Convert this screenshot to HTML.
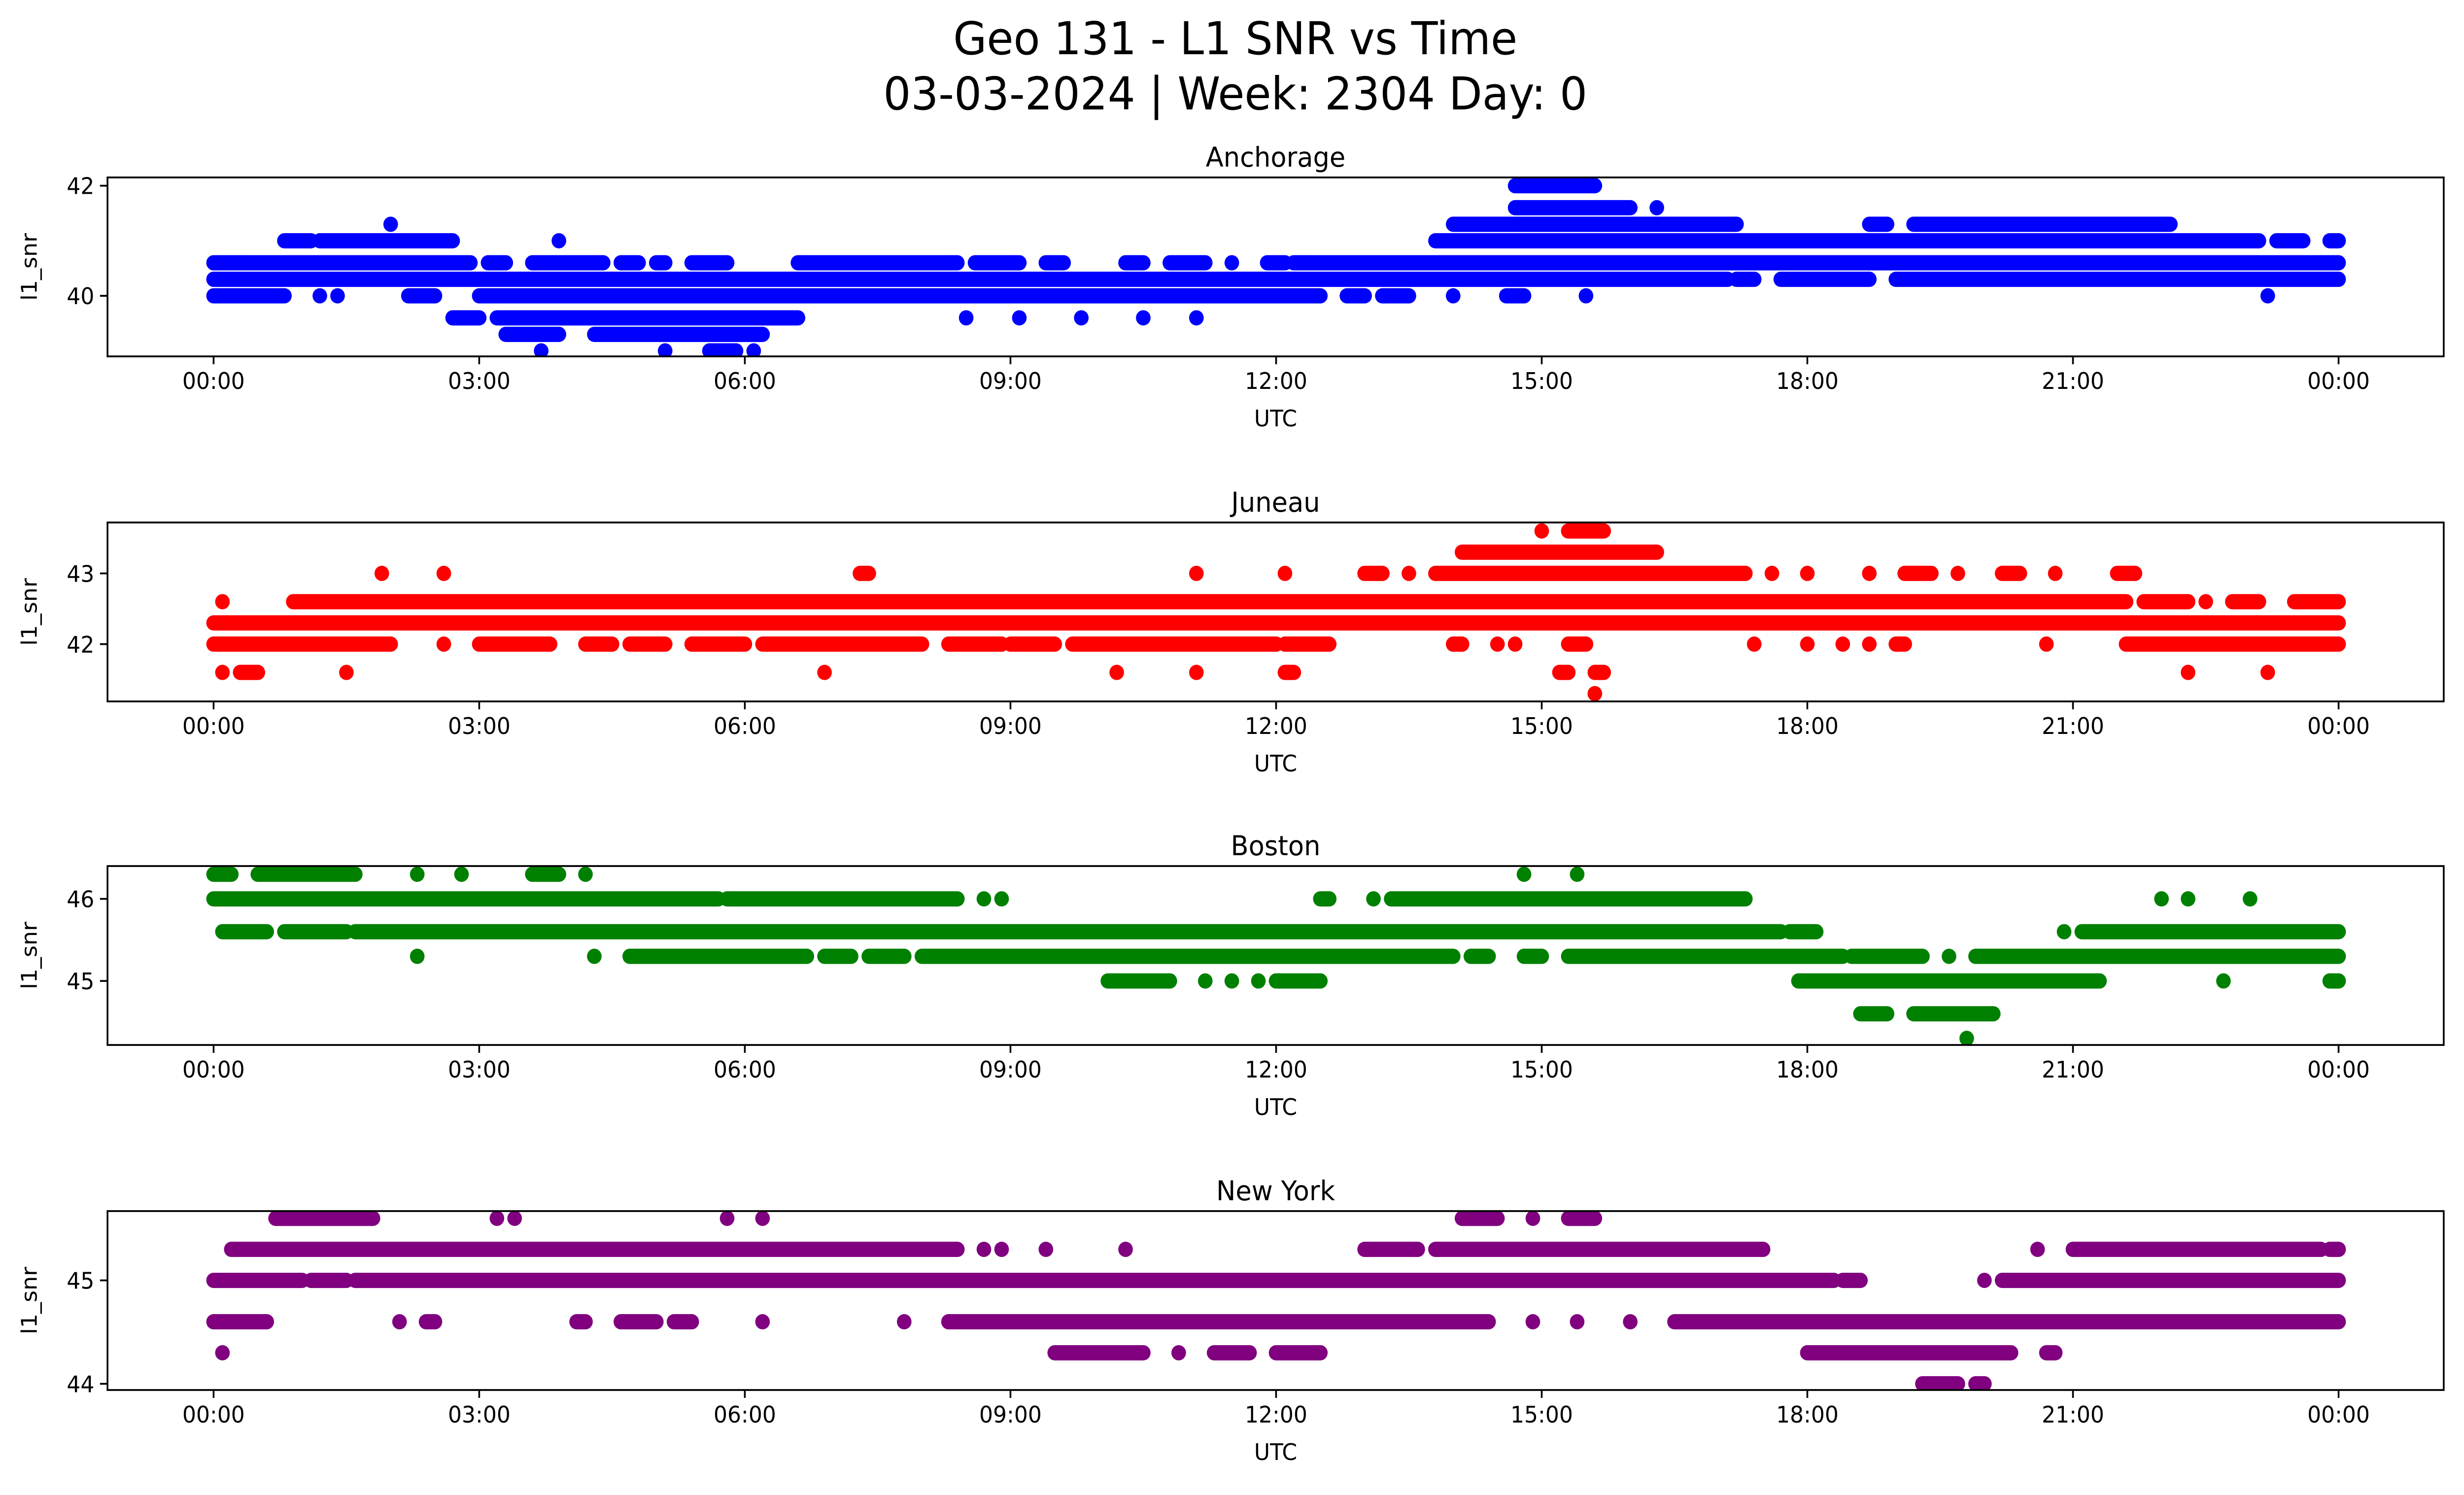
<!DOCTYPE html>
<html><head><meta charset="utf-8"><style>
html,body{margin:0;padding:0;background:#fff;overflow:hidden;width:100%;height:100%;}
svg{display:block;width:100vw;height:100vh;font-family:"DejaVu Sans","Liberation Sans",sans-serif;}
</style></head><body>
<svg id="fig" viewBox="0 0 5226 3033" preserveAspectRatio="none" xmlns="http://www.w3.org/2000/svg">
<rect width="5226" height="3033" fill="#fff"/>
<text x="2620" y="110" font-size="92" text-anchor="middle">Geo 131 - L1 SNR vs Time</text>
<text x="2620" y="222" font-size="92" text-anchor="middle">03-03-2024 | Week: 2304 Day: 0</text>
</svg>
<script>
// ---- data: runs [level, startHour, endHour] ----
const stations = ["Anchorage","Juneau","Boston","New York"];
const colors = ["#0000ff","#ff0000","#008000","#800080"];
const yLimits = [[38.9,42.15],[41.19,43.72],[44.22,46.4],[43.94,45.67]];
const yTicks = [[40,42],[42,43],[45,46],[44,45]];
const anchorageRuns = [
 [40.6,0,2.9],[40.6,3.1,3.3],[40.6,3.6,4.4],[40.6,4.6,4.8],[40.6,5.0,5.1],[40.6,5.4,5.8],[40.6,6.6,8.4],[40.6,8.6,9.1],[40.6,9.4,9.6],[40.6,10.3,10.5],[40.6,10.8,11.2],[40.6,11.5,11.5],[40.6,11.9,12.1],[40.6,12.2,24],
 [40.3,0,17.1],[40.3,17.2,17.4],[40.3,17.7,18.7],[40.3,19.0,24],
 [40,0,0.8],[40,1.2,1.2],[40,1.4,1.4],[40,2.2,2.5],[40,3.0,12.5],[40,12.8,13.0],[40,13.2,13.5],[40,14.0,14.0],[40,14.6,14.8],[40,15.5,15.5],[40,23.2,23.2],
 [39.6,2.7,3.0],[39.6,3.2,6.6],[39.6,8.5,8.5],[39.6,9.1,9.1],[39.6,9.8,9.8],[39.6,10.5,10.5],[39.6,11.1,11.1],
 [39.3,3.3,3.9],[39.3,4.3,6.2],
 [39,3.7,3.7],[39,5.1,5.1],[39,5.6,5.9],[39,6.1,6.1],
 [41,0.8,1.1],[41,1.2,2.7],[41,3.9,3.9],[41,13.8,23.1],[41,23.3,23.6],[41,23.9,24],
 [41.3,2.0,2.0],[41.3,14.0,17.2],[41.3,18.7,18.9],[41.3,19.2,22.1],
 [41.6,14.7,16.0],[41.6,16.3,16.3],
 [42,14.7,15.6]
];
const juneauRuns = [
 [42.3,0,24],
 [42.6,0.1,0.1],[42.6,0.9,21.6],[42.6,21.8,22.3],[42.6,22.5,22.5],[42.6,22.8,23.1],[42.6,23.5,24],
 [42,0,2.0],[42,2.6,2.6],[42,3.0,3.8],[42,4.2,4.5],[42,4.7,5.1],[42,5.4,6.0],[42,6.2,8.0],[42,8.3,8.9],[42,9.0,9.5],[42,9.7,12.0],[42,12.1,12.6],[42,14.0,14.1],[42,14.5,14.5],[42,14.7,14.7],[42,15.3,15.5],[42,17.4,17.4],[42,18.0,18.0],[42,18.4,18.4],[42,18.7,18.7],[42,19.0,19.1],[42,20.7,20.7],[42,21.6,24],
 [43,1.9,1.9],[43,2.6,2.6],[43,7.3,7.4],[43,11.1,11.1],[43,12.1,12.1],[43,13.0,13.2],[43,13.5,13.5],[43,13.8,17.3],[43,17.6,17.6],[43,18.0,18.0],[43,18.7,18.7],[43,19.1,19.4],[43,19.7,19.7],[43,20.2,20.4],[43,20.8,20.8],[43,21.5,21.7],
 [43.3,14.1,16.3],
 [43.6,15.0,15.0],[43.6,15.3,15.7],
 [41.6,0.1,0.1],[41.6,0.3,0.5],[41.6,1.5,1.5],[41.6,6.9,6.9],[41.6,10.2,10.2],[41.6,11.1,11.1],[41.6,12.1,12.2],[41.6,15.2,15.3],[41.6,15.6,15.7],[41.6,22.3,22.3],[41.6,23.2,23.2],
 [41.3,15.6,15.6]
];
const bostonRuns = [
 [46.3,0,0.2],[46.3,0.5,1.6],[46.3,2.3,2.3],[46.3,2.8,2.8],[46.3,3.6,3.9],[46.3,4.2,4.2],[46.3,14.8,14.8],[46.3,15.4,15.4],
 [46,0,5.7],[46,5.8,8.4],[46,8.7,8.7],[46,8.9,8.9],[46,12.5,12.6],[46,13.1,13.1],[46,13.3,17.3],[46,22.0,22.0],[46,22.3,22.3],[46,23.0,23.0],
 [45.6,0.1,0.6],[45.6,0.8,1.5],[45.6,1.6,17.7],[45.6,17.8,18.1],[45.6,20.9,20.9],[45.6,21.1,24],
 [45.3,2.3,2.3],[45.3,4.3,4.3],[45.3,4.7,6.7],[45.3,6.9,7.2],[45.3,7.4,7.8],[45.3,8.0,14.0],[45.3,14.2,14.4],[45.3,14.8,15.0],[45.3,15.3,18.4],[45.3,18.5,19.3],[45.3,19.6,19.6],[45.3,19.9,24],
 [45,10.1,10.8],[45,11.2,11.2],[45,11.5,11.5],[45,11.8,11.8],[45,12.0,12.5],[45,17.9,21.3],[45,22.7,22.7],[45,23.9,24],
 [44.6,18.6,18.9],[44.6,19.2,20.1],
 [44.3,19.8,19.8]
];
const newYorkRuns = [
 [45.6,0.7,1.8],[45.6,3.2,3.2],[45.6,3.4,3.4],[45.6,5.8,5.8],[45.6,6.2,6.2],[45.6,14.1,14.5],[45.6,14.9,14.9],[45.6,15.3,15.6],
 [45.3,0.2,8.4],[45.3,8.7,8.7],[45.3,8.9,8.9],[45.3,9.4,9.4],[45.3,10.3,10.3],[45.3,13.0,13.6],[45.3,13.8,17.5],[45.3,20.6,20.6],[45.3,21.0,23.8],[45.3,23.9,24],
 [45,0,1.0],[45,1.1,1.5],[45,1.6,18.3],[45,18.4,18.6],[45,20.0,20.0],[45,20.2,24],
 [44.6,0,0.6],[44.6,2.1,2.1],[44.6,2.4,2.5],[44.6,4.1,4.2],[44.6,4.6,5.0],[44.6,5.2,5.4],[44.6,6.2,6.2],[44.6,7.8,7.8],[44.6,8.3,14.4],[44.6,14.9,14.9],[44.6,15.4,15.4],[44.6,16.0,16.0],[44.6,16.5,24],
 [44.3,0.1,0.1],[44.3,9.5,10.5],[44.3,10.9,10.9],[44.3,11.3,11.7],[44.3,12.0,12.5],[44.3,18.0,20.3],[44.3,20.7,20.8],
 [44,19.3,19.7],[44,19.9,20.0]
];
const allRuns = [anchorageRuns, juneauRuns, bostonRuns, newYorkRuns];
const xTickHours = [0,3,6,9,12,15,18,21,24];
const xTickLabels = ["00:00","03:00","06:00","09:00","12:00","15:00","18:00","21:00","00:00"];

const NS = "http://www.w3.org/2000/svg";
const svg = document.getElementById('fig');
const AX_L = 228, AX_R = 5183;
const axTops = [360,1060,1757,2457], AX_H = 363;
const X0 = 453, X1 = 4960;
function xScale(h){ return X0 + (X1 - X0) * h / 24; }
function mk(tag, attrs){ const e = document.createElementNS(NS, tag); for (const k in attrs) e.setAttribute(k, attrs[k]); return e; }

stations.forEach((name, i) => {
  const top = axTops[i], bot = top + AX_H;
  const [lo, hi] = yLimits[i];
  const yScale = v => bot - (v - lo) / (hi - lo) * AX_H;
  const g = mk('g', {});
  
  
  svg.appendChild(g);
  const clipId = 'clip' + i;
  const cp = mk('clipPath', {id: clipId});
  cp.appendChild(mk('rect', {x: AX_L, y: top, width: AX_R - AX_L, height: AX_H}));
  g.appendChild(cp);
  const pts = mk('g', {'clip-path': 'url(#' + clipId + ')', stroke: colors[i], 'stroke-width': 31, 'stroke-linecap': 'round', fill: 'none'});
  
  
  g.appendChild(pts);
  allRuns[i].forEach(r => {
    const y = yScale(r[0]);
    const ln = mk('line', {x1: xScale(r[1]), x2: xScale(r[2]) + 0.01, y1: y, y2: y});
    
    
    pts.appendChild(ln);
  });
  const frame = mk('rect', {x: AX_L, y: top, width: AX_R - AX_L, height: AX_H, fill: 'none', stroke: '#000', 'stroke-width': 3.7});
  
  
  g.appendChild(frame);
  xTickHours.forEach((h, k) => {
    const x = xScale(h);
    g.appendChild(mk('line', {x1: x, x2: x, y1: bot, y2: bot + 16, stroke: '#000', 'stroke-width': 3.7}));
    const t = mk('text', {x: x, y: bot + 66, 'font-size': 46, 'text-anchor': 'middle'});
    
    
    t.textContent = xTickLabels[k];
    g.appendChild(t);
  });
  yTicks[i].forEach(v => {
    const y = yScale(v);
    g.appendChild(mk('line', {x1: AX_L - 16, x2: AX_L, y1: y, y2: y, stroke: '#000', 'stroke-width': 3.7}));
    const t = mk('text', {x: AX_L - 28, y: y + 17, 'font-size': 46, 'text-anchor': 'end'});
    
    
    t.textContent = String(v);
    g.appendChild(t);
  });
  const xl = mk('text', {x: (AX_L + AX_R) / 2, y: bot + 142, 'font-size': 46, 'text-anchor': 'middle'});
  
  
  xl.textContent = 'UTC';
  g.appendChild(xl);
  const yl = mk('text', {x: 0, y: 0, 'font-size': 46, 'text-anchor': 'middle', transform: 'translate(78,' + (top + AX_H / 2) + ') rotate(-90)'});
  
  
  yl.textContent = 'l1_snr';
  g.appendChild(yl);
  const tt = mk('text', {x: (AX_L + AX_R) / 2, y: top - 22, 'font-size': 55, 'text-anchor': 'middle'});
  
  
  tt.textContent = name;
  g.appendChild(tt);
});
</script>
</body></html>
